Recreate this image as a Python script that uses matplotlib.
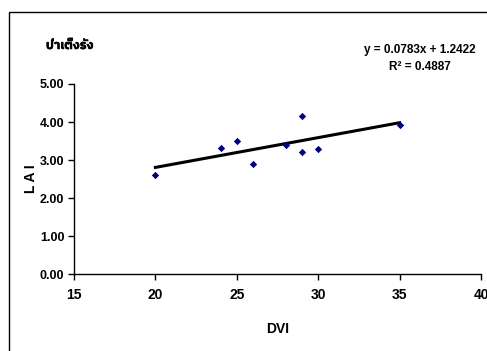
import matplotlib
matplotlib.use("Agg")
import matplotlib.pyplot as plt
from matplotlib.patches import Rectangle
from matplotlib import font_manager
import matplotlib.patheffects as pe

dvi = [20, 24, 25, 26, 28, 29, 29, 30, 35]
lai = [2.60, 3.31, 3.51, 2.90, 3.39, 4.15, 3.21, 3.28, 3.92]
slope = 0.0783
intercept = 1.2422
r2 = 0.4887
xticks = [15, 20, 25, 30, 35, 40]
yticks = [0, 1, 2, 3, 4, 5]

names = set(f.name for f in font_manager.fontManager.ttflist)
base = 'Liberation Sans Narrow' if 'Liberation Sans Narrow' in names else 'Liberation Sans'
thai_candidates = sorted(n for n in names if 'Thai' in n)
fam = [base] + thai_candidates + ['DejaVu Sans']
plt.rcParams['font.family'] = fam
plt.rcParams['font.weight'] = 'bold'

fig = plt.figure(figsize=(4.87, 3.51), dpi=100)
fig.patch.set_facecolor('white')
fig.add_artist(Rectangle((9/487, -0.05), 1.1, 1 - 12/351 + 0.05, transform=fig.transFigure,
                         fill=False, edgecolor='black', linewidth=1.0))

ax = fig.add_axes([74/487, 1 - 274.3/351, (481 - 74)/487, (274.3 - 84)/351])
ax.set_facecolor('none')
ax.scatter(dvi, lai, marker='D', s=14, color='#000080', zorder=3, linewidths=0)
xl = [min(dvi), max(dvi)]
ax.plot(xl, [slope * v + intercept for v in xl], color='black', linewidth=2.2, zorder=2)

ax.set_xlim(15, 40)
ax.set_ylim(0, 5)
ax.set_xticks(xticks)
ax.set_yticks(yticks)
ax.set_xticklabels([str(v) for v in xticks], fontsize=10, fontweight='bold')
ax.set_yticklabels([f"{v:.2f}" for v in yticks], fontsize=9, fontweight='bold')
for s in ['top', 'right']:
    ax.spines[s].set_visible(False)
for s in ['left', 'bottom']:
    ax.spines[s].set_linewidth(1.0)
ax.tick_params(direction='out', length=4, width=1, pad=3)
ax.tick_params(axis='x', pad=6)

ax.set_xlabel('DVI', fontsize=10, fontweight='bold', labelpad=14)
ax.set_ylabel('L A I', fontsize=10, fontweight='bold', labelpad=1)

t = fig.text(46/487, 1 - 46/351, 'ป่าเต็งรัง', fontsize=9, fontweight='bold', va='center', ha='left')
t.set_path_effects([pe.withStroke(linewidth=0.35, foreground='black')])
fig.text(420/487, 1 - 50/351, f'y = {slope}x + {intercept}', fontsize=8.5, fontweight='bold', va='center', ha='center')
fig.text(420/487, 1 - 67/351, f'R² = {r2}', fontsize=8.5, fontweight='bold', va='center', ha='center')

fig.savefig('out.png', dpi=100)
